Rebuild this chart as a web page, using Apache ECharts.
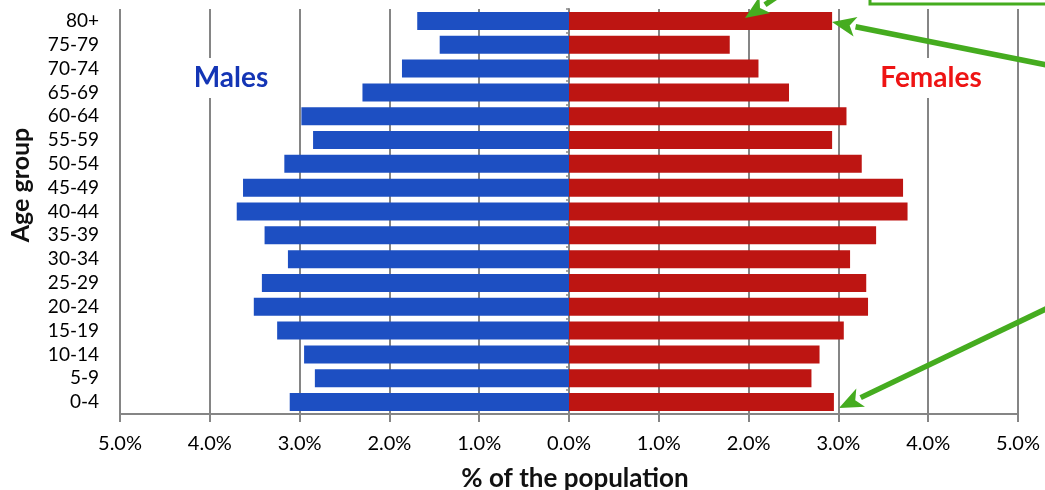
<!DOCTYPE html>
<html>
<head>
<meta charset="utf-8">
<script src="https://cdn.jsdelivr.net/npm/echarts@6/dist/echarts.min.js"></script>
<style>
  html, body { margin: 0; padding: 0; background: #fff; }
  #chart { width: 1045px; height: 490px; }
</style>
</head>
<body>
<div id="chart"></div>
<script>
// Age groups, youngest at the bottom
const ageGroups = ['0-4', '5-9', '10-14', '15-19', '20-24', '25-29', '30-34', '35-39',
  '40-44', '45-49', '50-54', '55-59', '60-64', '65-69', '70-74', '75-79', '80+'];

// Share of the total population (%)
const malesPct = [3.11, 2.83, 2.95, 3.25, 3.51, 3.42, 3.13, 3.39, 3.70, 3.63, 3.17, 2.85,
  2.98, 2.30, 1.86, 1.44, 1.69];
const femalesPct = [2.95, 2.70, 2.79, 3.06, 3.33, 3.31, 3.13, 3.42, 3.77, 3.72, 3.26, 2.93,
  3.09, 2.45, 2.11, 1.79, 2.93];

const FONT = 'Lato, "Open Sans", sans-serif';
const GRID_GRAY = '#858585';
const GREEN = '#45ac1f';

const chart = echarts.init(document.getElementById('chart'), null, { renderer: 'canvas' });

// Green call-out arrows drawn over the pyramid
function arrow(x1, y1, x2, y2) {
  const ang = Math.atan2(y2 - y1, x2 - x1);
  const len = 24, half = 10;
  const bx = x2 - len * Math.cos(ang), by = y2 - len * Math.sin(ang);
  const px = -Math.sin(ang) * half, py = Math.cos(ang) * half;
  return [
    { type: 'line', z: 100, shape: { x1: x1, y1: y1, x2: bx, y2: by },
      style: { stroke: GREEN, lineWidth: 5.5 } },
    { type: 'polygon', z: 100, shape: { points: [[x2, y2], [bx + px, by + py], [bx + 6 * Math.cos(ang), by + 6 * Math.sin(ang)], [bx - px, by - py]] },
      style: { fill: GREEN } }
  ];
}

const option = {
  backgroundColor: '#ffffff',
  animation: false,
  grid: { left: 120, right: 27, top: 9, bottom: 76, outerBoundsMode: 'none', containLabel: false },
  xAxis: {
    type: 'value',
    min: -5, max: 5, interval: 1,
    name: '% of the population',
    nameLocation: 'middle',
    nameGap: 52,
    nameTextStyle: { fontFamily: FONT, fontWeight: 'bold', fontSize: 26, color: '#111', padding: [0, 0, 0, 12] },
    axisLine: { show: true, onZero: false, lineStyle: { color: GRID_GRAY, width: 2 } },
    axisTick: { show: true, length: 8, lineStyle: { color: GRID_GRAY, width: 2 } },
    axisLabel: {
      fontFamily: FONT, fontSize: 20, color: '#000', margin: 20,
      formatter: v => Math.abs(v).toFixed(1) + '%'
    },
    splitLine: { show: true, lineStyle: { color: GRID_GRAY, width: 2 } }
  },
  yAxis: [
    {
      type: 'category',
      data: ageGroups,
      axisLine: { show: false, onZero: false },
      axisTick: { show: false },
      axisLabel: { interval: 0, fontFamily: FONT, fontSize: 19, color: '#000', margin: 21 }
    },
    {
      // centre spine at 0 %
      type: 'category',
      data: ageGroups,
      position: 'left',
      axisLine: { show: true, onZero: true, onZeroAxisIndex: 0, lineStyle: { color: GRID_GRAY, width: 2 } },
      axisTick: { show: true, length: 3, lineStyle: { color: GRID_GRAY, width: 1.5 } },
      axisLabel: { show: false }
    }
  ],
  series: [
    {
      name: 'Males',
      type: 'bar',
      stack: 'pyramid',
      barWidth: 18,
      itemStyle: { color: '#1d4fc2' },
      data: malesPct.map(v => -v)
    },
    {
      name: 'Females',
      type: 'bar',
      stack: 'pyramid',
      barWidth: 18,
      itemStyle: { color: '#bd1512' },
      data: femalesPct
    }
  ],
  graphic: [
    {
      type: 'text', z: 50, x: 21, y: 185, rotation: Math.PI / 2,
      style: {
        text: 'Age group', fontFamily: FONT, fontWeight: 'bold', fontSize: 25,
        fill: '#111', align: 'center', verticalAlign: 'middle'
      }
    },
    {
      type: 'text', z: 50, x: 231, y: 78,
      style: {
        text: 'Males', fontFamily: FONT, fontWeight: 'bold', fontSize: 28,
        fill: '#1435b5', backgroundColor: '#fff', padding: [6, 8, 6, 8],
        align: 'center', verticalAlign: 'middle'
      }
    },
    {
      type: 'text', z: 50, x: 931, y: 78,
      style: {
        text: 'Females', fontFamily: FONT, fontWeight: 'bold', fontSize: 28,
        fill: '#ee1414', backgroundColor: '#fff', padding: [6, 8, 6, 8],
        align: 'center', verticalAlign: 'middle'
      }
    },
    {
      type: 'rect', z: 100,
      shape: { x: 870, y: -20, width: 200, height: 24 },
      style: { fill: 'none', stroke: GREEN, lineWidth: 3 }
    },
    ...arrow(790, -12, 745, 18),
    ...arrow(1052, 66, 832, 22),
    ...arrow(1052, 306, 839, 408)
  ]
};

chart.setOption(option);
</script>
</body>
</html>
